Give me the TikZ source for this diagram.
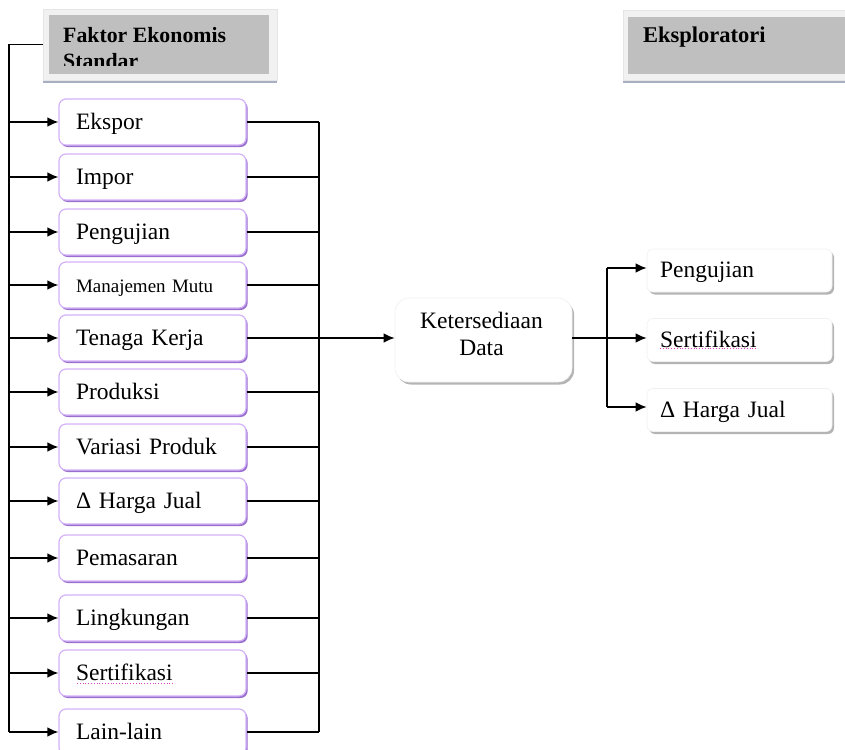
\documentclass[tikz,border=0pt]{standalone}
\usepackage{fontspec}
\setmainfont{Liberation Serif}
\usetikzlibrary{arrows.meta,shadows}
\definecolor{lavlight}{HTML}{D4B2F8}
\definecolor{lavdark}{HTML}{9A70CE}
\definecolor{hdrgray}{HTML}{BFBFBF}
\definecolor{hdrframe}{HTML}{F1F1F1}
\definecolor{hdrbar}{HTML}{A6B0C2}
\definecolor{boxshade}{HTML}{B4B4B4}
\definecolor{spellmark}{HTML}{E040C0}
\begin{document}
\begin{tikzpicture}[x=1pt,y=-1pt,
  conn/.style={line width=1.4pt,draw=black},
  arr/.style={conn,-{Latex[length=11pt,width=9.5pt]}},
  itembox/.style={draw=lavlight,line width=1.2pt,fill=white,rounded corners=7pt,
    minimum height=46pt,text width=153pt,inner xsep=17pt,align=left,
    text height=15pt,text depth=0pt,font=\fontsize{23.5}{27}\selectfont,
    general shadow={fill=lavdark,shadow xshift=1.6pt,shadow yshift=-2pt}},
  sidebox/.style={draw=gray!12,line width=0.6pt,fill=white,rounded corners=6pt,
    minimum height=43pt,text width=159pt,inner xsep=13pt,align=left,
    text height=14pt,text depth=0pt,font=\fontsize{23.5}{27}\selectfont,
    general shadow={fill=boxshade,shadow xshift=2pt,shadow yshift=-2.5pt}},
  hdrbox/.style={fill=hdrframe,draw=gray!20,line width=0.5pt,inner sep=0pt,
    general shadow={fill=hdrbar,shadow xshift=0pt,shadow yshift=-3.5pt}},
  hdrtext/.style={anchor=base west,inner sep=0pt,font=\bfseries\fontsize{21.8}{26}\selectfont},
  spell/.style={draw=spellmark,line width=0.8pt,dotted}
]
\useasboundingbox (0,0) rectangle (845,749);

% column headers
\node[hdrbox,minimum width=234pt,minimum height=71pt] (hdr) at (160,44.5) {};
\fill[hdrgray] (49,15) rectangle (269,74);
\begin{scope}
  \clip (49,15) rectangle (269,65.5);
  \node[hdrtext] (hdrA) at (63,43) {Faktor Ekonomis};
  \node[hdrtext] (hdrB) at (63,69) {Standar};
\end{scope}

\node[hdrbox,minimum width=240pt,minimum height=70pt] (exp) at (743,45) {};
\fill[hdrgray] (628,17) rectangle (860,74);
\node[hdrtext,font=\bfseries\fontsize{22.5}{26}\selectfont] (expA) at (643,43) {Eksploratori};

% economic factor items
\node[itembox] (b1)  at (152.5,122) {Ekspor};
\node[itembox] (b2)  at (152.5,177) {Impor};
\node[itembox] (b3)  at (152.5,232) {Pengujian};
\node[itembox,font=\fontsize{19}{23}\selectfont] (b4)  at (152.5,285) {Manajemen Mutu};
\node[itembox] (b5)  at (152.5,338) {Tenaga Kerja};
\node[itembox] (b6)  at (152.5,392) {Produksi};
\node[itembox] (b7)  at (152.5,447) {Variasi Produk};
\node[itembox] (b8)  at (152.5,501) {Δ Harga Jual};
\node[itembox] (b9)  at (152.5,558) {Pemasaran};
\node[itembox] (b10) at (152.5,618) {Lingkungan};
\node[itembox] (b11) at (152.5,673) {Sertifikasi};
\node[itembox] (b12) at (152.5,732) {Lain-lain};
\draw[spell] (77,683) -- (175,683);

% data availability and exploratory items
\node[draw=gray!12,line width=0.6pt,fill=white,rounded corners=14pt,
  minimum width=177pt,minimum height=84pt,
  general shadow={fill=boxshade,shadow xshift=2pt,shadow yshift=-2.5pt}] (kd) at (483.5,340) {};
\node[inner sep=0pt,align=center,font=\fontsize{23.5}{27}\selectfont] (kdtext) at (481.5,333.5) {Ketersediaan\\Data};

\node[sidebox] (r1) at (739.5,270.5) {Pengujian};
\node[sidebox] (r2) at (739.5,340) {Sertifikasi};
\node[sidebox] (r3) at (739.5,410) {Δ Harga Jual};
\draw[spell] (660,348) -- (758,348);

% left trunk feeding every item
\coordinate (trunk) at (9,0);
\draw[conn] (hdr.west) -- (trunk |- hdr.west) -- (trunk |- b12);
\foreach \b in {b1,b2,b3,b4,b5,b6,b7,b8,b9,b10,b11,b12}
  \draw[arr] (trunk |- \b) -- (\b.west);

% right collector bus
\coordinate (bus) at (319,0);
\draw[conn] (bus |- b1) -- (bus |- b12);
\foreach \b in {b1,b2,b3,b4,b5,b6,b7,b8,b9,b10,b11,b12}
  \draw[conn] (\b.east) -- (bus |- \b);
\draw[arr] (b5.east) -- (b5.east -| kd.west);

% fork to the exploratory items
\coordinate (fork) at (607,0);
\coordinate (r1in) at ([yshift=2.5pt]r1.west);
\coordinate (r3in) at ([yshift=3pt]r3.west);
\draw[conn] (kd.east |- b5) -- (fork |- b5);
\draw[conn] (fork |- r1in) -- (fork |- r3in);
\draw[arr] (fork |- r1in) -- (r1in);
\draw[arr] (fork |- b5) -- (r2.west |- b5);
\draw[arr] (fork |- r3in) -- (r3in);
\end{tikzpicture}
\end{document}
